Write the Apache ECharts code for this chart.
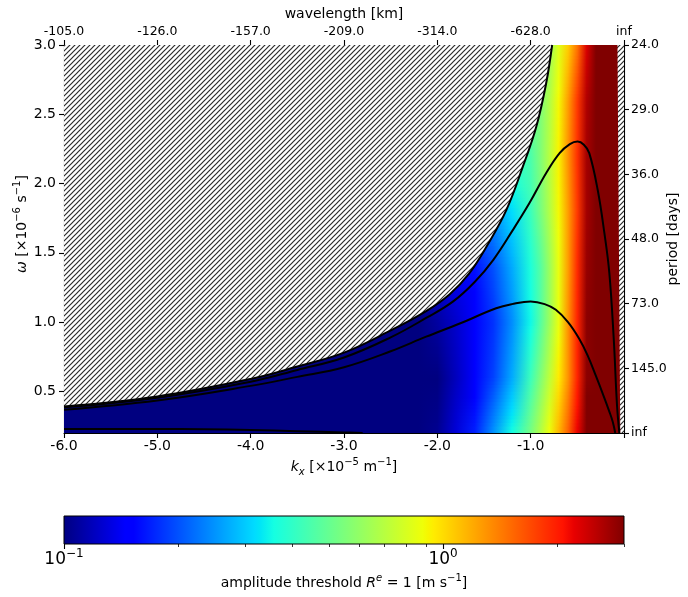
<!DOCTYPE html>
<html><head><meta charset="utf-8">
<script src="https://cdn.jsdelivr.net/npm/echarts@6/dist/echarts.min.js"></script>
<style>html,body{margin:0;padding:0;background:#fff}#c{width:688px;height:597px}</style>
</head><body><div id="c"></div>
<script>
// ---------------- data ----------------
const kxRange = [-6, 0];
const omegaRange = [0.2, 3.0];
const kxTicks = [-6, -5, -4, -3, -2, -1, 0];
const kxTickLabels = ['-6.0', '-5.0', '-4.0', '-3.0', '-2.0', '-1.0', ''];
const wavelengthLabels = ['-105.0', '-126.0', '-157.0', '-209.0', '-314.0', '-628.0', 'inf'];
const omegaTicks = [0.5, 1.0, 1.5, 2.0, 2.5, 3.0];
const periodLabels = ['inf', '145.0', '73.0', '48.0', '36.0', '29.0', '24.0'];
const cbRange = [0.1, 3.0];
const cbMajorTicks = [0.1, 1];
const cbMinorTicks = [0.2, 0.3, 0.4, 0.5, 0.6, 0.7, 0.8, 0.9, 2, 3];

// amplitude threshold field: rows at omega, values at kx columns
const heatKx = [-6, -3, -2.5, -2.2, -2.0, -1.8, -1.6, -1.4, -1.2, -1.0, -0.9, -0.8, -0.7, -0.6, -0.5, -0.4, -0.3, 0];
const heatOmega = [0.2, 0.6, 1.0, 1.4, 1.8, 2.2, 2.6, 3.0];
const amp_w0_2 = [0.03, 0.06, 0.08, 0.095, 0.105, 0.13, 0.17, 0.25, 0.36, 0.54, 0.68, 0.88, 1.15, 1.55, 2.2, 3.2, 4.5, 10];
const amp_w0_6 = [0.03, 0.06, 0.075, 0.09, 0.1, 0.12, 0.145, 0.19, 0.27, 0.42, 0.55, 0.72, 0.95, 1.3, 1.95, 2.9, 4.3, 10];
const amp_w1_0 = [0.03, 0.07, 0.09, 0.1, 0.11, 0.125, 0.145, 0.18, 0.245, 0.35, 0.46, 0.62, 0.86, 1.3, 1.95, 2.9, 4.3, 10];
const amp_w1_4 = [0.05, 0.08, 0.1, 0.11, 0.125, 0.14, 0.16, 0.2, 0.27, 0.37, 0.46, 0.62, 0.86, 1.25, 1.9, 2.8, 4.2, 10];
const amp_w1_8 = [0.06, 0.1, 0.13, 0.16, 0.18, 0.2, 0.22, 0.25, 0.32, 0.42, 0.53, 0.68, 0.9, 1.25, 1.8, 2.7, 4.2, 10];
const amp_w2_2 = [0.08, 0.15, 0.2, 0.23, 0.26, 0.29, 0.32, 0.36, 0.4, 0.45, 0.55, 0.7, 0.92, 1.3, 1.85, 2.7, 4.2, 10];
const amp_w2_6 = [0.1, 0.2, 0.25, 0.3, 0.33, 0.36, 0.4, 0.44, 0.48, 0.52, 0.55, 0.68, 0.9, 1.25, 1.8, 2.6, 4.0, 10];
const amp_w3_0 = [0.12, 0.25, 0.3, 0.35, 0.38, 0.42, 0.46, 0.5, 0.54, 0.58, 0.6, 0.62, 0.82, 1.05, 1.45, 2.3, 3.8, 10];
const heatRows = [amp_w0_2, amp_w0_6, amp_w1_0, amp_w1_4, amp_w1_8, amp_w2_2, amp_w2_6, amp_w3_0];

// boundary of the excluded (hatched) region
const curveA_kx = [-6, -5, -4, -3.5, -3, -2.5, -2.12, -1.87, -1.66, -1.46, -1.26, -1.085, -0.94, -0.835, -0.77];
const curveA_w  = [0.392, 0.464, 0.59, 0.68, 0.78, 0.94, 1.08, 1.2, 1.35, 1.56, 1.81, 2.12, 2.41, 2.72, 3.0];
// other black curves
const curveB_kx = [-6, -5, -4, -3.5, -3, -2.5, -2.12, -1.83, -1.6, -1.4, -1.19, -1.013, -0.835, -0.69, -0.58, -0.497, -0.43, -0.372, -0.282, -0.21, -0.157, -0.11, -0.075, -0.05];
const curveB_w  = [0.385, 0.455, 0.57, 0.655, 0.745, 0.89, 1.03, 1.15, 1.29, 1.45, 1.666, 1.859, 2.075, 2.22, 2.285, 2.303, 2.28, 2.22, 1.955, 1.642, 1.354, 0.88, 0.4, 0.2];
const curveC_kx = [-6, -5, -4, -3.5, -3, -2.5, -2.12, -1.76, -1.37, -1.2, -1.0, -0.85, -0.73, -0.6, -0.48, -0.39, -0.3, -0.22, -0.16, -0.12, -0.094];
const curveC_w  = [0.368, 0.435, 0.54, 0.605, 0.675, 0.79, 0.895, 0.99, 1.1, 1.13, 1.149, 1.13, 1.089, 1.0, 0.88, 0.76, 0.61, 0.47, 0.36, 0.28, 0.2];
const curveD_kx = [-6, -5, -4.5, -4, -3.5, -3, -2.8];
const curveD_w  = [0.229, 0.229, 0.227, 0.222, 0.213, 0.204, 0.2];
// thin masked strip near kx = 0
const maskKx = [-0.07, -0.055, -0.04, 0, 0];
const maskW  = [3.0, 1.6, 0.2, 0.2, 3.0];

// ---------------- helpers ----------------
const FONT = 'DejaVu Sans';
function interp(x, xs, ys) {
  if (x <= xs[0]) return ys[0];
  for (let i = 1; i < xs.length; i++) {
    if (x <= xs[i]) { const t = (x - xs[i-1]) / (xs[i] - xs[i-1]); return ys[i-1] + t * (ys[i] - ys[i-1]); }
  }
  return ys[ys.length - 1];
}
function jet(f) {
  f = Math.max(0, Math.min(1, f));
  const r = interp(f, [0, 0.35, 0.66, 0.89, 1], [0, 0, 1, 1, 0.5]);
  const g = interp(f, [0, 0.125, 0.375, 0.64, 0.91, 1], [0, 0, 1, 1, 0, 0]);
  const b = interp(f, [0, 0.11, 0.34, 0.65, 1], [0.5, 1, 1, 0, 0]);
  return 'rgb(' + Math.round(r*255) + ',' + Math.round(g*255) + ',' + Math.round(b*255) + ')';
}
const lmin = Math.log10(cbRange[0]), lmax = Math.log10(cbRange[1]);
function logColor(lv) { return jet((lv - lmin) / (lmax - lmin)); }
const jetBreaks = [0, 0.11, 0.125, 0.34, 0.35, 0.375, 0.64, 0.65, 0.66, 0.89, 0.91, 1];

function makeHatch() {
  const s = 5;
  const c = document.createElement('canvas');
  c.width = s; c.height = s;
  const ctx = c.getContext('2d');
  ctx.fillStyle = '#fff'; ctx.fillRect(0, 0, s, s);
  ctx.strokeStyle = '#2a2a2a'; ctx.lineWidth = 1.15;
  for (const o of [0, s, 2*s]) { ctx.beginPath(); ctx.moveTo(o + 2, -2); ctx.lineTo(o - s - 2, s + 2); ctx.stroke(); }
  return c;
}
const hatch = { image: makeHatch(), repeat: 'repeat' };
const pair = (xs, ys) => xs.map((x, i) => [x, ys[i]]);

const supRich = {
  i: { fontStyle: 'italic', fontSize: 14, fontFamily: FONT, lineHeight: 20, color: '#000' },
  s: { fontSize: 10, fontFamily: FONT, lineHeight: 10, verticalAlign: 'top', color: '#000' },
  si: { fontSize: 10, fontStyle: 'italic', fontFamily: FONT, lineHeight: 10, verticalAlign: 'top', color: '#000' },
  sub: { fontSize: 10, fontStyle: 'italic', fontFamily: FONT, lineHeight: 14, verticalAlign: 'bottom', color: '#000' }
};
const nameStyle = { fontSize: 14, fontFamily: FONT, color: '#000', lineHeight: 20, rich: supRich };
const plainName = { fontSize: 14, fontFamily: FONT, color: '#000', lineHeight: 18 };
const axisLineStyle = { color: '#000', width: 1.1 };
const tickStyle = { color: '#000', width: 1.1 };
const curveLine = { color: '#000', width: 2 };

const option = {
  animation: false,
  backgroundColor: '#fff',
  grid: [
    { left: 64, top: 45, width: 560, height: 388, outerBoundsMode: 'none', containLabel: false },
    { left: 64, top: 516, width: 560, height: 28, outerBoundsMode: 'none', containLabel: false }
  ],
  xAxis: [
    { gridIndex: 0, type: 'value', position: 'bottom', min: kxRange[0], max: kxRange[1], interval: 1,
      axisLine: { show: true, onZero: false, lineStyle: axisLineStyle },
      axisTick: { show: true, length: 5, lineStyle: tickStyle },
      axisLabel: { fontSize: 14, fontFamily: FONT, color: '#000', margin: 6, showMinLabel: true, showMaxLabel: true,
        formatter: v => kxTickLabels[kxTicks.indexOf(Math.round(v))] || '' },
      splitLine: { show: false },
      name: '{i|k}{sub|x} [×10{s|−5} m{s|−1}]', nameLocation: 'middle', nameGap: 24, nameMoveOverlap: false,
      nameTextStyle: nameStyle },
    { gridIndex: 0, type: 'value', position: 'top', min: kxRange[0], max: kxRange[1], interval: 1,
      axisLine: { show: true, onZero: false, lineStyle: axisLineStyle },
      axisTick: { show: true, length: 5, lineStyle: tickStyle },
      axisLabel: { fontSize: 12.5, fontFamily: FONT, color: '#000', margin: 7, showMinLabel: true, showMaxLabel: true,
        formatter: v => wavelengthLabels[kxTicks.indexOf(Math.round(v))] || '' },
      splitLine: { show: false },
      name: 'wavelength [km]', nameLocation: 'middle', nameGap: 22, nameMoveOverlap: false, nameTextStyle: plainName },
    { gridIndex: 1, type: 'value', position: 'bottom', min: lmin, max: lmax,
      axisLine: { show: false },
      axisTick: { show: true, length: 5, lineStyle: tickStyle, customValues: cbMajorTicks.map(Math.log10) },
      axisLabel: { customValues: cbMajorTicks.map(Math.log10), margin: 4, showMinLabel: true,
        formatter: v => '{b|10}{s|' + (Math.round(v) < 0 ? '−' : '') + Math.abs(Math.round(v)) + '}',
        rich: { b: { fontSize: 17, fontFamily: FONT, lineHeight: 24, color: '#000' },
                s: { fontSize: 12, fontFamily: FONT, lineHeight: 12, verticalAlign: 'top', color: '#000' } } },
      splitLine: { show: false },
      name: 'amplitude threshold {i|R}{si|e} = 1 [m s{s|−1}]', nameLocation: 'middle', nameGap: 29, nameMoveOverlap: false,
      nameTextStyle: nameStyle },
    { gridIndex: 1, type: 'value', position: 'bottom', min: lmin, max: lmax,
      axisLine: { show: false },
      axisTick: { show: true, length: 3, lineStyle: { color: '#000', width: 0.8 }, customValues: cbMinorTicks.map(Math.log10) },
      axisLabel: { show: false }, splitLine: { show: false } }
  ],
  yAxis: [
    { gridIndex: 0, type: 'value', position: 'left', min: omegaRange[0], max: omegaRange[1],
      axisLine: { show: true, onZero: false, lineStyle: axisLineStyle },
      axisTick: { show: true, length: 5, lineStyle: tickStyle, customValues: omegaTicks },
      axisLabel: { customValues: omegaTicks, fontSize: 14, fontFamily: FONT, color: '#000', margin: 8,
        formatter: v => v.toFixed(1) },
      splitLine: { show: false },
      name: '{i|ω} [×10{s|−6} s{s|−1}]', nameLocation: 'middle', nameRotate: 90, nameGap: 32, nameMoveOverlap: false,
      nameTextStyle: Object.assign({}, nameStyle, { padding: [0, 0, 0, 30] }) },
    { gridIndex: 0, type: 'value', position: 'right', min: 0, max: 6, interval: 1,
      axisLine: { show: true, onZero: false, lineStyle: axisLineStyle },
      axisTick: { show: true, length: 5, lineStyle: tickStyle },
      axisLabel: { fontSize: 12.5, fontFamily: FONT, color: '#000', margin: 7, showMinLabel: true, showMaxLabel: true,
        formatter: v => periodLabels[Math.round(v)] || '' },
      splitLine: { show: false },
      name: 'period [days]', nameLocation: 'middle', nameRotate: 90, nameGap: 40, nameMoveOverlap: false,
      nameTextStyle: plainName },
    { gridIndex: 1, type: 'value', min: 0, max: 1, show: false }
  ],
  series: [
    { // amplitude field, smoothly shaded between the read rows
      type: 'custom', xAxisIndex: 0, yAxisIndex: 0, z: 1, clip: true, silent: true,
      data: heatOmega.slice(0, -1).map((w, i) => [kxRange[0], w, i]),
      encode: { x: 0, y: 1 },
      renderItem: (params, api) => {
        const i = api.value(2);
        const wA = heatOmega[i], wB = heatOmega[i+1];
        const rowA = heatRows[i].map(Math.log10), rowB = heatRows[i+1].map(Math.log10);
        const left = api.coord([kxRange[0], wA])[0], right = api.coord([kxRange[1], wA])[0];
        const offs = heatKx.map(k => (api.coord([k, wA])[0] - left) / (right - left));
        const nSub = 16, children = [];
        for (let s = 0; s < nSub; s++) {
          const t = (s + 0.5) / nSub;
          const yTop = api.coord([kxRange[0], wA + (wB - wA) * (s + 1) / nSub])[1];
          const yBot = api.coord([kxRange[0], wA + (wB - wA) * s / nSub])[1];
          const stops = offs.map((o, j) => ({ offset: o, color: logColor(rowA[j] * (1 - t) + rowB[j] * t) }));
          children.push({ type: 'rect', shape: { x: left, y: yTop - 0.4, width: right - left, height: yBot - yTop + 0.8 },
                          style: { fill: new echarts.graphic.LinearGradient(0, 0, 1, 0, stops) } });
        }
        return { type: 'group', children };
      }
    },
    { // masked strip near kx=0
      type: 'custom', xAxisIndex: 0, yAxisIndex: 0, z: 2, clip: true, silent: true,
      data: [[maskKx[0], maskW[0]]], encode: { x: 0, y: 1 },
      renderItem: (params, api) => ({
        type: 'polygon', shape: { points: maskKx.map((k, i) => api.coord([k, maskW[i]])) },
        style: { fill: hatch }
      })
    },
    { // hatched excluded region + its boundary
      type: 'line', xAxisIndex: 0, yAxisIndex: 0, z: 3, data: pair(curveA_kx, curveA_w),
      smooth: 0.4, symbol: 'none', silent: true, lineStyle: curveLine,
      areaStyle: { color: hatch, origin: 'end', opacity: 1 }
    },
    { type: 'line', xAxisIndex: 0, yAxisIndex: 0, z: 4, data: pair(curveB_kx, curveB_w), smooth: 0.4,
      symbol: 'none', silent: true, lineStyle: curveLine },
    { type: 'line', xAxisIndex: 0, yAxisIndex: 0, z: 4, data: pair(curveC_kx, curveC_w), smooth: 0.4,
      symbol: 'none', silent: true, lineStyle: curveLine },
    { type: 'line', xAxisIndex: 0, yAxisIndex: 0, z: 4, data: pair(curveD_kx, curveD_w), smooth: 0.4,
      symbol: 'none', silent: true, lineStyle: curveLine },
    { // colorbar
      type: 'custom', xAxisIndex: 2, yAxisIndex: 2, z: 1, silent: true,
      data: [[lmin, 0]], encode: { x: 0, y: 1 },
      renderItem: (params, api) => {
        const a = api.coord([lmin, 1]), b = api.coord([lmax, 0]);
        const stops = jetBreaks.map(f => ({ offset: f, color: jet(f) }));
        return { type: 'rect', shape: { x: a[0], y: a[1], width: b[0] - a[0], height: b[1] - a[1] },
                 style: { fill: new echarts.graphic.LinearGradient(0, 0, 1, 0, stops), stroke: '#000', lineWidth: 1 } };
      }
    }
  ]
};
const chart = echarts.init(document.getElementById('c'), null, { renderer: 'canvas' });
chart.setOption(option);
</script>
</body></html>
